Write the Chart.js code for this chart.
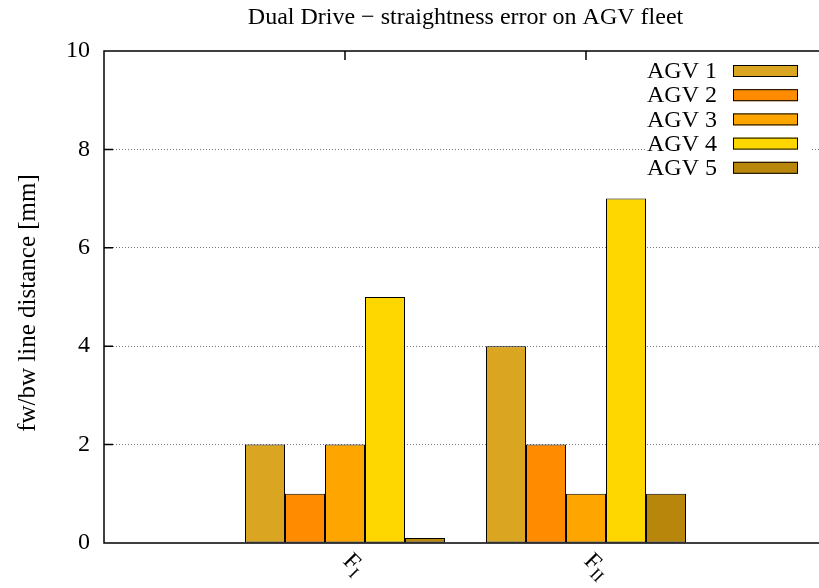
<!DOCTYPE html>
<html>
<head>
<meta charset="utf-8">
<script src="https://cdn.jsdelivr.net/npm/chart.js@4.4.0/dist/chart.umd.min.js"></script>
<style>
  html, body { margin: 0; padding: 0; background: #fff; overflow: hidden; }
  #wrap { width: 840px; height: 588px; }
</style>
</head>
<body>
<div id="wrap"><canvas id="chart" width="840" height="588"></canvas></div>
<script>
// categories: main letter + subscript
const CATEGORY_MAIN = ["F", "F"];
const CATEGORY_SUB = ["I", "II"];

const SERIES_LABELS = ["AGV 1", "AGV 2", "AGV 3", "AGV 4", "AGV 5"];
const SERIES_COLORS = ["#daa520", "#ff8c00", "#ffa500", "#ffd700", "#b8860b"];

const agv1 = [2, 4];
const agv2 = [1, 2];
const agv3 = [2, 1];
const agv4 = [5, 7];
const agv5 = [0.1, 1];

const Y_TICKS = [0, 2, 4, 6, 8, 10];

const TITLE = "Dual Drive \u2212 straightness error on AGV fleet";
const Y_TITLE = "fw/bw line distance [mm]";
const FONT = '"Liberation Serif", "Times New Roman", serif';

const seriesValues = [agv1, agv2, agv3, agv4, agv5];

const decor = {
  id: "decor",
  afterDraw(chart) {
    const { ctx, chartArea: a, scales } = chart;
    ctx.save();

    // frame + inward ticks
    ctx.strokeStyle = "#000";
    ctx.lineWidth = 1.5;
    ctx.beginPath();
    ctx.moveTo(a.right, a.top);
    ctx.lineTo(a.left, a.top);
    ctx.lineTo(a.left, a.bottom);
    ctx.lineTo(a.right, a.bottom);
    Y_TICKS.forEach(v => {
      const y = scales.y.getPixelForValue(v);
      ctx.moveTo(a.left, y);
      ctx.lineTo(a.left + 9, y);
    });
    CATEGORY_MAIN.forEach((c, i) => {
      const x = scales.x.getPixelForValue(i);
      ctx.moveTo(x, a.top);
      ctx.lineTo(x, a.top + 9);
    });
    ctx.stroke();

    ctx.fillStyle = "#000";

    // x labels, rotated, with subscripts
    CATEGORY_MAIN.forEach((m, i) => {
      const x = scales.x.getPixelForValue(i);
      ctx.save();
      ctx.translate(x - 3, a.bottom + 19);
      ctx.rotate(Math.PI / 4);
      ctx.textAlign = "left";
      ctx.textBaseline = "alphabetic";
      ctx.font = `24px ${FONT}`;
      ctx.fillText(m, 0, 0);
      const w = ctx.measureText(m).width;
      ctx.font = `17px ${FONT}`;
      ctx.fillText(CATEGORY_SUB[i], w, 5);
      ctx.restore();
    });

    // title
    ctx.font = `24px ${FONT}`;
    ctx.textAlign = "center";
    ctx.textBaseline = "alphabetic";
    ctx.fillText(TITLE, (a.left + a.right) / 2, 24);

    // y title
    ctx.save();
    ctx.translate(28, (a.top + a.bottom) / 2 + 6);
    ctx.rotate(-Math.PI / 2);
    ctx.textBaseline = "middle";
    ctx.font = `25px ${FONT}`;
    ctx.fillText(Y_TITLE, 0, 0);
    ctx.restore();

    // legend
    ctx.fillStyle = "#fff";
    ctx.fillRect(646, 57, 164, 122);
    chart.data.datasets.forEach((ds, k) => {
      const cy = 71 + k * 24.2;
      ctx.fillStyle = "#000";
      ctx.textAlign = "right";
      ctx.textBaseline = "middle";
      ctx.font = `24px ${FONT}`;
      ctx.fillText(ds.label, 717, cy + 1);
      ctx.fillStyle = ds.backgroundColor;
      ctx.fillRect(733, cy - 6, 65, 12);
      ctx.lineWidth = 1;
      ctx.strokeStyle = "#000";
      ctx.strokeRect(733.5, cy - 5.5, 64, 11);
    });

    ctx.restore();
  }
};

new Chart(document.getElementById("chart"), {
  type: "bar",
  data: {
    datasets: SERIES_LABELS.map((label, k) => ({
      label,
      data: seriesValues[k].map((v, i) => ({ x: i, y: v })),
      backgroundColor: SERIES_COLORS[k],
      borderColor: "#000",
      borderWidth: 1,
      borderSkipped: false,
      categoryPercentage: 0.83,
      barPercentage: 1
    }))
  },
  options: {
    responsive: false,
    animation: false,
    devicePixelRatio: 1,
    layout: { padding: { left: 0, top: 51, right: 13, bottom: 0 } },
    plugins: {
      legend: { display: false },
      title: { display: false },
      tooltip: { enabled: false }
    },
    scales: {
      x: {
        type: "linear",
        min: -1,
        max: 2,
        offset: false,
        bounds: "data",
        afterBuildTicks: s => { s.ticks = CATEGORY_MAIN.map((c, i) => ({ value: i })); },
        afterFit: s => { s.height = 45; },
        ticks: { display: false },
        grid: { display: false },
        border: { display: false }
      },
      y: {
        min: 0,
        max: 10,
        afterBuildTicks: s => { s.ticks = Y_TICKS.map(v => ({ value: v })); },
        afterFit: s => { s.width = 104; },
        ticks: {
          color: "#000",
          padding: 14,
          font: { family: FONT, size: 24 }
        },
        grid: {
          drawTicks: false,
          lineWidth: 1,
          color: c => (c.tick && c.tick.value > 0 && c.tick.value < 10) ? "#777" : "rgba(0,0,0,0)"
        },
        border: { display: false, dash: [1, 2] }
      }
    }
  },
  plugins: [decor]
});
</script>
</body>
</html>
